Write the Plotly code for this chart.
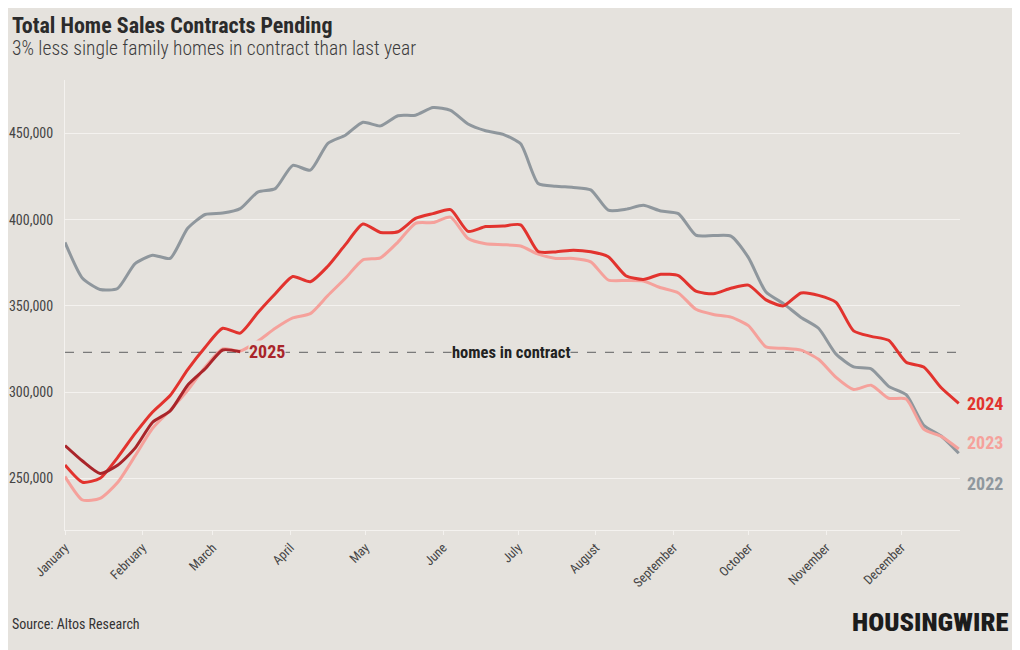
import pandas as pd
import plotly.graph_objects as go

# weekly readings, first week starting Jan 1 (plotted on a common calendar year)
weeks = pd.date_range("2023-01-01", periods=52, freq="7D")

sales_2022 = [386800, 366000, 359500, 360100, 374500, 379400, 377500, 395000, 403000, 403800,
              406400, 416000, 418000, 431500, 428700, 444300, 449000, 456500, 454400, 460300,
              460600, 465000, 463400, 455500, 451600, 449500, 444000, 421000, 419400, 418700,
              417300, 405500, 406000, 408300, 405000, 403500, 391000, 390800, 390500, 378000,
              358000, 351300, 343300, 337000, 322000, 314600, 313500, 303300, 298500, 280800,
              274500, 264500]
sales_2023 = [251000, 237400, 238300, 247500, 263000, 279000, 289500, 301000, 314500, 325000,
              323800, 329500, 337000, 343000, 345500, 356000, 366000, 376700, 377900, 387000,
              397900, 398300, 401500, 389000, 386000, 385500, 384700, 380000, 377500, 377500,
              375500, 365000, 364700, 364400, 360500, 357500, 348000, 345000, 343500, 338500,
              326200, 325400, 324300, 319000, 308500, 301500, 304000, 296400, 296000, 278500,
              274300, 267000]
sales_2024 = [257700, 247700, 250000, 262000, 276000, 288500, 298000, 313000, 326000, 337000,
              334200, 346000, 357000, 367000, 364000, 373000, 385500, 397500, 392600, 393000,
              400700, 403500, 405800, 393200, 396000, 396300, 397000, 381500, 381300, 382300,
              381400, 378500, 367500, 365300, 368300, 367500, 358500, 357000, 360200, 362000,
              353500, 350000, 357500, 356100, 352000, 335500, 332300, 330000, 317300, 314500,
              302500, 293500]
sales_2025 = [269000, 260000, 252800, 257500, 267500, 282500, 289000, 304000, 313500, 324400,
              323400]

current_in_contract = 323000

month_ticks = pd.date_range("2023-01-01", periods=12, freq="MS")
month_labels = ["January", "February", "March", "April", "May", "June", "July",
                "August", "September", "October", "November", "December"]
y_ticks = [250000, 300000, 350000, 400000, 450000]

BG = "#e5e2dd"
GRID = "#f4f2ef"
FONT = "Roboto Condensed, Liberation Sans Narrow, DejaVu Sans Condensed, Roboto, sans-serif"

series = [
    ("2022", sales_2022, "#8f979d"),
    ("2023", sales_2023, "#f5a19b"),
    ("2024", sales_2024, "#e2332e"),
    ("2025", sales_2025, "#a9252a"),
]

fig = go.Figure()
for name, values, color in series:
    fig.add_trace(
        go.Scatter(
            x=weeks[: len(values)],
            y=values,
            mode="lines",
            name=name,
            line={"color": color, "width": 3, "shape": "spline", "smoothing": 0.6},
            hoverinfo="skip",
        )
    )

fig.add_hline(y=current_in_contract, line={"color": "#7a7a7a", "width": 1.3, "dash": "dash"}, layer="below")

fig.add_annotation(
    x=pd.Timestamp("2023-06-28"), y=current_in_contract, text="<b>homes in contract</b>",
    showarrow=False, font={"family": FONT, "size": 16.5, "color": "#222"}, bgcolor=BG, borderpad=0,
)
fig.add_annotation(
    x=weeks[len(sales_2025) - 1], y=sales_2025[-1], text="<b>2025</b>", xanchor="left",
    xshift=8, showarrow=False, font={"family": FONT, "size": 18, "color": "#a9252a"}, bgcolor=BG, borderpad=0,
)

# end-of-line labels with short leaders
end_labels = [("2024", sales_2024[-1], "#e2332e", 0), ("2023", sales_2023[-1], "#f5a19b", 6),
              ("2022", sales_2022[-1], "#8f979d", -30)]
for name, last, color, shift in end_labels:
    fig.add_annotation(
        x=weeks[-1], y=last, text=f"<b>{name}</b>", xanchor="left", xshift=6, yshift=shift,
        showarrow=False, font={"family": FONT, "size": 18, "color": color},
    )
for last, y0, y1 in [(sales_2023[-1], 6, -2), (sales_2022[-1], -2, -30), (sales_2024[-1], 1, -1)]:
    fig.add_shape(
        type="line", xref="x", yref="y", xsizemode="pixel", ysizemode="pixel",
        xanchor=weeks[-1], yanchor=last, x0=5, x1=5, y0=y0, y1=y1,
        line={"color": "#9a9a9a", "width": 1},
    )

# page adds 8px body margin; paper coords below are relative to a 57px left margin
fig.add_annotation(
    xref="paper", yref="paper", x=-0.061, y=1.12, xanchor="left", yanchor="middle",
    text="<b>Total Home Sales Contracts Pending</b>", showarrow=False,
    font={"family": FONT, "size": 22, "color": "#2b2b2b"},
)
fig.add_annotation(
    xref="paper", yref="paper", x=-0.061, y=1.071, xanchor="left", yanchor="middle",
    text="3% less single family homes in contract than last year", showarrow=False,
    font={"family": FONT, "size": 19.5, "color": "#3c3c3c", "weight": 300},
)
fig.add_annotation(
    xref="paper", yref="paper", x=-0.061, y=-0.209, xanchor="left", yanchor="middle",
    text="Source: Altos Research", showarrow=False,
    font={"family": FONT, "size": 14, "color": "#333"},
)
fig.add_annotation(
    xref="paper", yref="paper", x=1.0555, y=-0.203, xanchor="right", yanchor="middle",
    text="HOUSINGWIRE", showarrow=False,
    font={"family": FONT, "size": 26.5, "color": "#1c1c1c", "weight": 900},
)

fig.update_layout(
    width=1012,
    height=642,
    paper_bgcolor=BG,
    plot_bgcolor=BG,
    showlegend=False,
    margin={"l": 57, "r": 60, "t": 72, "b": 120},
    font={"family": FONT, "size": 13, "color": "#444"},
    xaxis={
        "type": "date",
        "range": [pd.Timestamp("2023-01-01"), pd.Timestamp("2023-12-24 12:00")],
        "tickvals": month_ticks,
        "ticktext": month_labels,
        "tickangle": -45,
        "ticks": "outside",
        "ticklen": 4,
        "tickcolor": GRID,
        "showgrid": False,
        "showline": True,
        "linecolor": GRID,
        "zeroline": False,
        "automargin": False,
        "tickfont": {"size": 13, "color": "#444"},
    },
    yaxis={
        "range": [220000, 481000],
        "tickvals": y_ticks,
        "tickformat": ",",
        "gridcolor": GRID,
        "showline": True,
        "linecolor": GRID,
        "zeroline": False,
        "automargin": False,
        "ticklabelstandoff": 8,
        "tickfont": {"size": 14, "color": "#444"},
    },
)

fig.write_html("out.html")
